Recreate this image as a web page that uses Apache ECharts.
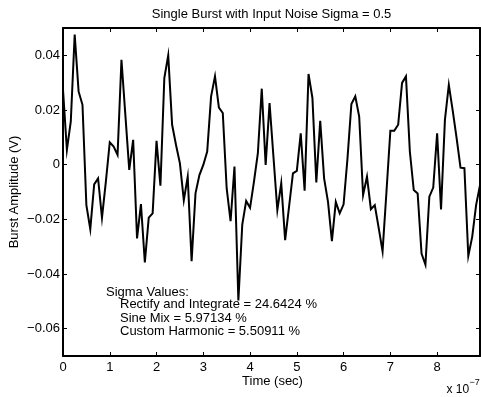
<!DOCTYPE html>
<html>
<head>
<meta charset="utf-8">
<script src="https://cdn.jsdelivr.net/npm/echarts@6/dist/echarts.min.js"></script>
<style>
html,body{margin:0;padding:0;background:#fff;}
#chart{width:481px;height:397px;}
</style>
</head>
<body>
<div id="chart"></div>
<script>
// Sample interval (s) and burst amplitude samples (V)
var sampleInterval = 1e-7 / 12;
var amplitude = [
  0.0274, 0.0054, 0.0158, 0.0476, 0.0268, 0.0219, -0.0148, -0.0236, -0.0072, -0.0050,
  -0.0194, -0.0062, 0.0082, 0.0066, 0.0036, 0.0384, 0.0182, -0.0019, 0.0091, -0.0270,
  -0.0144, -0.0358, -0.0194, -0.0178, 0.0087, -0.0077, 0.0317, 0.0400, 0.0146, 0.0072,
  0.0005, -0.0130, -0.0044, -0.0353, -0.0105, -0.0038, -0.0001, 0.0048, 0.0250, 0.0323,
  0.0209, 0.0189, -0.0087, -0.0207, -0.0007, -0.0497, -0.0219, -0.0133, -0.0158, -0.0062,
  0.0042, 0.0278, -0.0001, 0.0225, 0.0029, -0.0166, -0.0068, -0.0276, -0.0154, -0.0032,
  -0.0023, 0.0115, -0.0095, 0.0332, 0.0244, -0.0065, 0.0160, -0.0050, -0.0136, -0.0280,
  -0.0136, -0.0178, -0.0145, 0.0023, 0.0222, 0.0250, 0.0176, -0.0111, -0.0044, -0.0163,
  -0.0148, -0.0231, -0.0317, -0.0099, 0.0124, 0.0124, 0.0146, 0.0299, 0.0323, 0.0048,
  -0.0093, -0.0105, -0.0325, -0.0366, -0.0117, -0.0084, 0.0115, -0.0164, 0.0164, 0.0292,
  0.0198, 0.0097, -0.0011, -0.0013, -0.0334, -0.0264, -0.0148, -0.0075
];
var xTickValues = [0, 1e-7, 2e-7, 3e-7, 4e-7, 5e-7, 6e-7, 7e-7, 8e-7];
var yTickValues = [-0.06, -0.04, -0.02, 0, 0.02, 0.04];
var yMin = -0.07, yMax = 0.05;
var titleText = 'Single Burst with Input Noise Sigma = 0.5';
var xName = 'Time (sec)';
var yName = 'Burst Amplitude (V)';
var sigmaLines = [
  'Sigma Values:',
  'Rectify and Integrate = 24.6424 %',
  'Sine Mix = 5.97134 %',
  'Custom Harmonic = 5.50911 %'
];

var seriesData = amplitude.map(function (v, i) { return [i * sampleInterval, v]; });
var tMax = (amplitude.length - 1) * sampleInterval;

var FONT = "'Liberation Sans', Arial, Helvetica, sans-serif";
var FS = 13;
var chart = echarts.init(document.getElementById('chart'), null, {renderer: 'canvas'});

function xFmt(v) { return String(Math.round(v * 1e7)); }
function yFmt(v) {
  if (Math.abs(v) < 1e-12) return '0';
  return v.toFixed(2).replace('-', '\u2212');
}
var axisLineStyle = {color: '#000', width: 2};
function xAxisCfg(pos, showLabel) {
  return {
    type: 'value', position: pos, min: 0, max: tMax,
    axisLine: {show: true, onZero: false, lineStyle: axisLineStyle},
    axisTick: {show: true, inside: true, length: 4, customValues: xTickValues, lineStyle: {color: '#000', width: 1}},
    axisLabel: {show: showLabel, customValues: xTickValues, formatter: xFmt, color: '#000', fontSize: FS, fontFamily: FONT, margin: 5},
    splitLine: {show: false}
  };
}
function yAxisCfg(pos, showLabel) {
  return {
    type: 'value', position: pos, min: yMin, max: yMax,
    axisLine: {show: true, onZero: false, lineStyle: axisLineStyle},
    axisTick: {show: true, inside: true, length: 4, customValues: yTickValues, lineStyle: {color: '#000', width: 1}},
    axisLabel: {show: showLabel, customValues: yTickValues, formatter: yFmt, color: '#000', fontSize: FS, fontFamily: FONT, margin: 3},
    splitLine: {show: false}
  };
}

var textStyleBase = {fill: '#000', fontSize: FS, fontFamily: FONT};
var graphics = [
  {type: 'text', x: 271.5, y: 14, style: Object.assign({text: titleText, align: 'center', verticalAlign: 'middle'}, textStyleBase)},
  {type: 'text', x: 272.5, y: 381, style: Object.assign({text: xName, align: 'center', verticalAlign: 'middle'}, textStyleBase)},
  {type: 'text', x: 14, y: 192, rotation: Math.PI / 2, style: Object.assign({text: yName, align: 'center', verticalAlign: 'middle'}, textStyleBase)},
  {type: 'text', x: 446.5, y: 389.5, style: {text: 'x 10', align: 'left', verticalAlign: 'middle', fill: '#000', fontSize: 12, fontFamily: FONT}},
  {type: 'text', x: 469.5, y: 383, style: {text: '\u22127', align: 'left', verticalAlign: 'middle', fill: '#000', fontSize: 9, fontFamily: FONT}},
  {type: 'text', x: 106, y: 292, style: Object.assign({text: sigmaLines[0], align: 'left', verticalAlign: 'middle'}, textStyleBase)},
  {type: 'text', x: 120, y: 304.5, style: Object.assign({text: sigmaLines[1], align: 'left', verticalAlign: 'middle'}, textStyleBase)},
  {type: 'text', x: 120, y: 318.5, style: Object.assign({text: sigmaLines[2], align: 'left', verticalAlign: 'middle'}, textStyleBase)},
  {type: 'text', x: 120, y: 331.5, style: Object.assign({text: sigmaLines[3], align: 'left', verticalAlign: 'middle'}, textStyleBase)}
];

chart.setOption({
  animation: false,
  backgroundColor: '#fff',
  grid: {left: 63, right: 1, top: 28, bottom: 41, containLabel: false},
  xAxis: [xAxisCfg('bottom', true), xAxisCfg('top', false)],
  yAxis: [yAxisCfg('left', true), yAxisCfg('right', false)],
  series: [{
    type: 'line', xAxisIndex: 0, yAxisIndex: 0, data: seriesData,
    showSymbol: false, symbol: 'none', clip: true,
    lineStyle: {color: '#000', width: 2, join: 'miter'},
    z: 3
  }],
  graphic: graphics
});
</script>
</body>
</html>
